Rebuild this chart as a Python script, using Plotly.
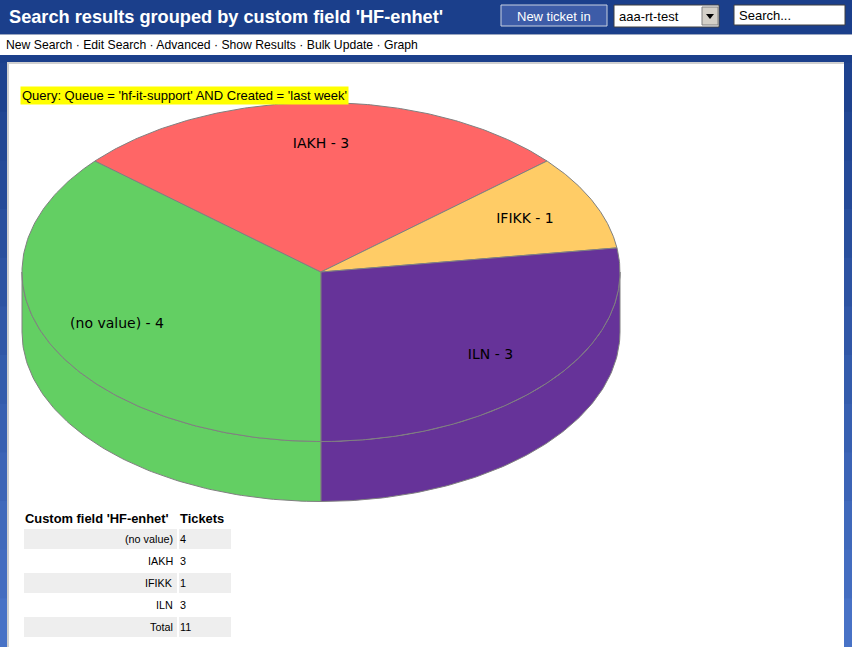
import numpy as np
import plotly.graph_objects as go

labels = ["(no value)", "IAKH", "IFIKK", "ILN"]
tickets = [4, 3, 1, 3]
slice_colors = ["#63cf63", "#ff6666", "#ffcc66", "#663399"]

page_title = "Search results grouped by custom field 'HF-enhet'"
menu_items = ["New Search", "Edit Search", "Advanced", "Show Results", "Bulk Update", "Graph"]
query_text = "Query: Queue = 'hf-it-support' AND Created = 'last week'"
table_header = ["Custom field 'HF-enhet'", "Tickets"]

W, H = 852, 647
# pie geometry in page pixels
cx, cy, rx, ry, depth = 321, 272, 299, 169.5, 60
edge = "#808080"
dark_blue = "#1b3f8b"


def ell(a_deg, dy=0):
    a = np.radians(a_deg)
    return cx + rx * np.cos(a), cy - ry * np.sin(a) + dy


total = sum(tickets)
cum = np.concatenate([[0], np.cumsum(tickets)])
bounds = [-90 - 360 * c / total for c in cum]  # clockwise from bottom

fig = go.Figure()

# side walls (only the front half shows)
for i in range(len(tickets)):
    hi, lo = bounds[i], bounds[i + 1]
    for w_lo, w_hi in [(-180, 0), (-540, -360)]:
        a, b = max(lo, w_lo), min(hi, w_hi)
        if b <= a:
            continue
        t = np.linspace(b, a, 100)
        xt, yt = ell(t)
        xb, yb = ell(t[::-1], depth)
        fig.add_trace(go.Scatter(
            x=np.concatenate([xt, xb, xt[:1]]),
            y=np.concatenate([yt, yb, yt[:1]]),
            fill="toself", fillcolor=slice_colors[i],
            line=dict(color=edge, width=1), mode="lines",
            hoverinfo="skip", showlegend=False))

# top faces
for i in range(len(tickets)):
    t = np.linspace(bounds[i], bounds[i + 1], 150)
    xs, ys = ell(t)
    fig.add_trace(go.Scatter(
        x=np.concatenate([[cx], xs, [cx]]),
        y=np.concatenate([[cy], ys, [cy]]),
        fill="toself", fillcolor=slice_colors[i],
        line=dict(color=edge, width=1), mode="lines",
        hoverinfo="skip", showlegend=False))

# slice labels
mids = np.radians([(bounds[i] + bounds[i + 1]) / 2 for i in range(len(tickets))])
fig.add_trace(go.Scatter(
    x=cx + 0.75 * rx * np.cos(mids),
    y=cy - 0.75 * ry * np.sin(mids),
    text=[f"{l} - {v}" for l, v in zip(labels, tickets)],
    mode="text", textfont=dict(family="DejaVu Sans", size=14, color="black"),
    hoverinfo="skip", showlegend=False))

# page chrome
shapes = [
    dict(x0=0, x1=W, y0=0, y1=34, fillcolor=dark_blue),
    dict(x0=0, x1=W, y0=34, y1=35, fillcolor="#9aa6c0"),
    dict(x0=0, x1=W, y0=35, y1=55, fillcolor="white"),
    dict(x0=0, x1=W, y0=55, y1=63, fillcolor=dark_blue),
    dict(x0=7, x1=844, y0=62, y1=64, fillcolor="#d0d0d0"),
    dict(x0=9, x1=843, y0=64, y1=H, fillcolor="white"),
    dict(x0=501, x1=607, y0=5, y1=26, fillcolor="#3d5ca8", line=dict(color="#c8d0e0", width=1)),
    dict(x0=614, x1=719, y0=5, y1=27, fillcolor="white", line=dict(color="#404040", width=1)),
    dict(x0=702, x1=718, y0=7, y1=25, fillcolor="#d4d0c8", line=dict(color="#808080", width=1)),
    dict(type="path", path="M 706 14 L 714 14 L 710 19 Z", fillcolor="black"),
    dict(x0=734, x1=845, y0=5, y1=25, fillcolor="white", line=dict(color="#404040", width=1)),
]
# side gradient strips
steps = 12
top_c, bot_c = np.array([30, 66, 142]), np.array([72, 114, 198])
for k in range(steps):
    f = k / (steps - 1)
    c = top_c + (bot_c - top_c) * f
    col = f"rgb({int(c[0])},{int(c[1])},{int(c[2])})"
    y0 = 63 + (H - 63) * k / steps
    y1 = 63 + (H - 63) * (k + 1) / steps + 1
    shapes.append(dict(x0=0, x1=7, y0=y0, y1=y1, fillcolor=col))
    shapes.append(dict(x0=844, x1=W, y0=y0, y1=y1, fillcolor=col))
shapes.append(dict(x0=7, x1=9, y0=62, y1=H, fillcolor="#d0d0d0"))

annotations = [
    dict(x=7, y=17, text=f"<b>{page_title}</b>", xanchor="left", yanchor="middle",
         font=dict(family="Liberation Sans", size=18.2, color="white")),
    dict(x=554, y=16, text="New ticket in", xanchor="center", yanchor="middle",
         font=dict(family="Liberation Sans", size=13, color="white")),
    dict(x=617, y=16, text="aaa-rt-test", xanchor="left", yanchor="middle",
         font=dict(family="Liberation Sans", size=13, color="black")),
    dict(x=737, y=15, text="Search...", xanchor="left", yanchor="middle",
         font=dict(family="Liberation Sans", size=13, color="black")),
    dict(x=4, y=45, text=" · ".join(menu_items), xanchor="left", yanchor="middle",
         font=dict(family="Liberation Sans", size=12.2, color="black")),
    dict(x=20, y=95, text=query_text, xanchor="left", yanchor="middle",
         bgcolor="#ffff00", borderpad=1,
         font=dict(family="Liberation Sans", size=13, color="black")),
]

# summary table: header, one row per label, then total
col1_x0, col1_x1, col2_x0, col2_x1 = 24, 177, 179, 231
head_y, row0_y, row_h, row_gap = 518, 529, 20, 2
hdr_font = dict(family="Liberation Sans", size=12.9, color="black")
cell_font = dict(family="Liberation Sans", size=10.8, color="black")
annotations.append(dict(x=col1_x0 - 1, y=head_y, text=f"<b>{table_header[0]}</b>",
                        xanchor="left", yanchor="middle", font=hdr_font))
annotations.append(dict(x=col2_x0 - 1, y=head_y, text=f"<b>{table_header[1]}</b>",
                        xanchor="left", yanchor="middle", font=hdr_font))
row_names = labels + ["Total"]
row_vals = tickets + [total]
for k, (name, val) in enumerate(zip(row_names, row_vals)):
    y0 = row0_y + k * (row_h + row_gap)
    fill = "#eeeeee" if k % 2 == 0 else "white"
    shapes.append(dict(x0=col1_x0, x1=col1_x1, y0=y0, y1=y0 + row_h, fillcolor=fill))
    shapes.append(dict(x0=col2_x0, x1=col2_x1, y0=y0, y1=y0 + row_h, fillcolor=fill))
    annotations.append(dict(x=col1_x1 - 2, y=y0 + row_h / 2, text=name,
                            xanchor="right", yanchor="middle", font=cell_font))
    annotations.append(dict(x=col2_x0 - 1, y=y0 + row_h / 2, text=str(val),
                            xanchor="left", yanchor="middle", font=cell_font))

for s in shapes:
    s.setdefault("type", "rect")
    s.setdefault("line", dict(width=0))
    s.update(xref="x", yref="y", layer="below")
for a in annotations:
    a.update(xref="x", yref="y", showarrow=False)

fig.update_layout(
    width=W, height=H, autosize=False,
    margin=dict(l=0, r=0, t=0, b=0),
    paper_bgcolor="white", plot_bgcolor="white",
    xaxis=dict(range=[0, W], visible=False, fixedrange=True),
    yaxis=dict(range=[H, 0], visible=False, fixedrange=True),
    shapes=shapes, annotations=annotations,
    showlegend=False,
)

# the page body has a default 8px margin; drop it so the figure fills the window
fig.write_html("out.html", config={"displayModeBar": False},
               post_script="document.body.style.margin='0';document.body.style.overflow='hidden';")
